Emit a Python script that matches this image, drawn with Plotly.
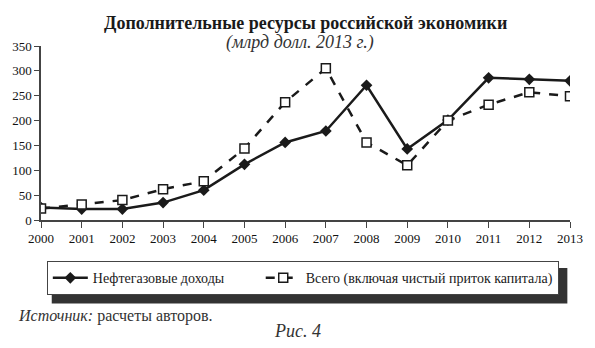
import plotly.graph_objects as go

years = [2000, 2001, 2002, 2003, 2004, 2005, 2006, 2007, 2008, 2009, 2010, 2011, 2012, 2013]
oil_gas = [25, 22, 22, 35, 60, 112, 156, 179, 271, 143, 201, 286, 283, 280]
total = [23, 31, 40, 62, 78, 144, 237, 305, 156, 110, 200, 232, 257, 249]
y_ticks = [0, 50, 100, 150, 200, 250, 300, 350]
series_names = ["Нефтегазовые доходы", "Всего (включая чистый приток капитала)"]

SERIF = "Liberation Serif"
INK = "#1a1a1a"
PAD = "\u00a0" * 9

fig = go.Figure()
fig.add_trace(go.Scatter(
    x=years, y=oil_gas, mode="lines+markers", name=series_names[0] + PAD,
    line=dict(color=INK, width=2.5),
    marker=dict(symbol="diamond", size=9, color=INK),
))
fig.add_trace(go.Scatter(
    x=years, y=total, mode="lines+markers", name=series_names[1],
    line=dict(color=INK, width=2.5, dash="dash"),
    marker=dict(symbol="square", size=9, color="white", line=dict(color=INK, width=1.5)),
))

fig.update_layout(
    width=595, height=348,
    margin=dict(l=36, r=18, t=46, b=128),
    paper_bgcolor="white", plot_bgcolor="white",
    font=dict(family=SERIF, size=13, color=INK),
    showlegend=True,
    legend=dict(
        orientation="h", x=0.011, y=-0.237, xanchor="left", yanchor="top",
        bgcolor="white", bordercolor="#444", borderwidth=1,
        font=dict(family=SERIF, size=14, color=INK),
        itemwidth=35,
    ),
)
fig.update_xaxes(
    range=[2000, 2013], tickvals=years, ticktext=[str(y) for y in years],
    showline=True, linecolor="#444", linewidth=1.5,
    ticks="outside", ticklen=6, tickcolor="#444",
    showgrid=False, zeroline=False,
    tickfont=dict(family=SERIF, size=13, color="#111"),
)
fig.update_yaxes(
    range=[0, 350], tickvals=y_ticks,
    showline=True, linecolor="#444", linewidth=1.5,
    ticks="outside", ticklen=5, tickcolor="#444",
    showgrid=False, zeroline=False,
    tickfont=dict(family=SERIF, size=13, color="#111"),
)

# legend shadow
fig.add_shape(type="rect", xref="paper", yref="paper",
              x0=0.0203, x1=0.995, y0=-0.48, y1=-0.276,
              fillcolor="#333", line=dict(width=0), layer="below")

fig.add_annotation(text="<b>Дополнительные ресурсы российской экономики</b>",
                   xref="paper", yref="paper", x=0.5, y=1.0, yshift=35,
                   showarrow=False, font=dict(family=SERIF, size=18, color=INK))
fig.add_annotation(text="<i>(млрд долл. 2013 г.)</i>",
                   xref="paper", yref="paper", x=0.49, y=1.0, yshift=16,
                   showarrow=False, font=dict(family=SERIF, size=18, color="#333"))
fig.add_annotation(text="<i>Источник:</i> расчеты авторов.",
                   xref="paper", yref="paper", x=-0.048, y=0, yshift=-107,
                   xanchor="left", showarrow=False,
                   font=dict(family=SERIF, size=16, color="#333"))
fig.add_annotation(text="<i>Рис. 4</i>",
                   xref="paper", yref="paper", x=0.485, y=0, yshift=-123,
                   showarrow=False, font=dict(family=SERIF, size=18, color="#333"))

fig.write_html("out.html")
